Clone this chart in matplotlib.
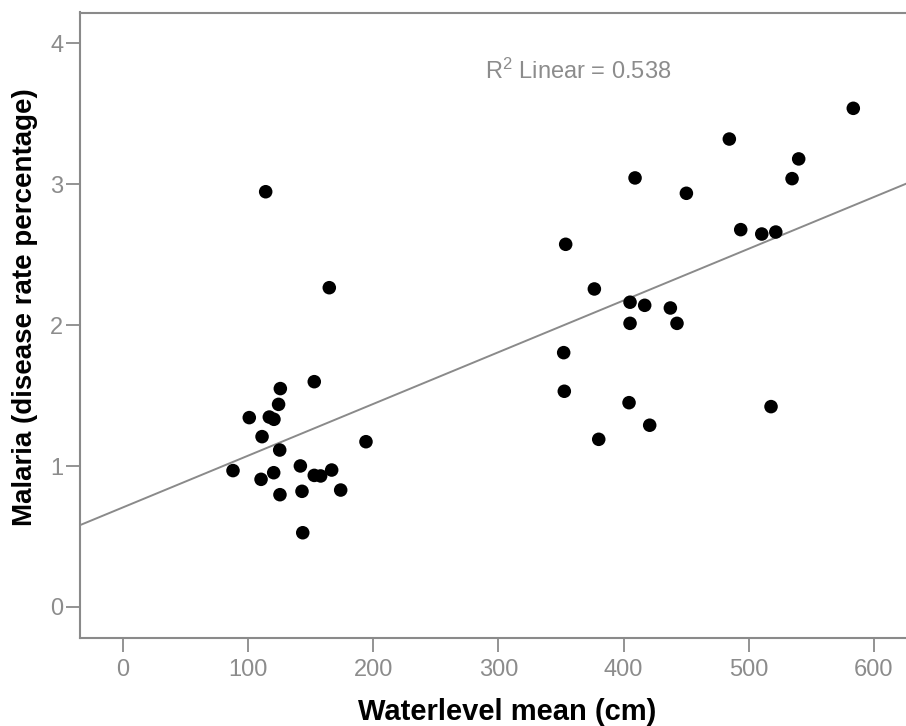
import matplotlib
matplotlib.use("Agg")
import matplotlib.pyplot as plt
import numpy as np

# ------------------------------------------------------------------
# Data (waterlevel in cm, malaria %)
# ------------------------------------------------------------------
waterlevel_low = [114.2, 165.0, 153.0, 125.9, 124.5, 101.1, 117.1, 120.8,
                  111.3, 125.4, 194.3, 88.1, 110.5, 120.6, 141.9, 153.0,
                  158.1, 166.9, 125.6, 143.2, 174.1, 143.8]
malaria_low = [2.947, 2.266, 1.599, 1.550, 1.438, 1.344, 1.348, 1.332,
               1.209, 1.114, 1.173, 0.968, 0.906, 0.953, 1.001, 0.934,
               0.930, 0.972, 0.797, 0.821, 0.830, 0.527]

waterlevel_high = [583.5, 484.5, 539.9, 534.6, 409.2, 450.2, 353.8, 493.6,
                   510.4, 521.6, 376.7, 405.2, 416.9, 437.4, 405.2, 442.7,
                   352.2, 352.7, 404.4, 517.8, 420.9, 380.2]
malaria_high = [3.539, 3.321, 3.180, 3.040, 3.045, 2.936, 2.574, 2.678,
                2.647, 2.661, 2.257, 2.163, 2.141, 2.122, 2.013, 2.013,
                1.805, 1.531, 1.450, 1.422, 1.290, 1.190]

x_ticks = [0, 100, 200, 300, 400, 500, 600]
y_ticks = [0, 1, 2, 3, 4]
r2_label = r"R$^2$ Linear = 0.538"

x = np.array(waterlevel_low + waterlevel_high)
y = np.array(malaria_low + malaria_high)

plt.rcParams["font.family"] = ["Liberation Sans", "DejaVu Sans"]
plt.rcParams["mathtext.fontset"] = "custom"
plt.rcParams["mathtext.rm"] = "Liberation Sans"
plt.rcParams["mathtext.it"] = "Liberation Sans"

spine_gray = "#8a8a8a"
text_gray = "#8c8c8c"

fig = plt.figure(figsize=(9.06, 7.26), dpi=100)
ax = fig.add_axes([80 / 906, 88 / 726, 1 - 80 / 906, (638 - 12.5) / 726])

xlim = (-34.1, 625.6)
ax.set_xlim(*xlim)
ax.set_ylim(-0.22, 4.219)

# fit line across the full frame
slope, intercept = np.polyfit(x, y, 1)
xx = np.array(xlim)
ax.plot(xx, intercept + slope * xx, color="#8a8a8a", lw=1.4, zorder=2)

ax.scatter(x, y, s=95, color="black", edgecolors="none", zorder=3)

ax.text(364, 3.80, r2_label, ha="center", va="center",
        fontsize=17, color=text_gray)

for side in ["top", "left", "bottom"]:
    ax.spines[side].set_color(spine_gray)
    ax.spines[side].set_linewidth(1.5)
ax.spines["right"].set_visible(False)

ax.set_xticks(x_ticks)
ax.set_yticks(y_ticks)
ax.tick_params(axis="both", direction="out", length=10, width=1.3,
               color=spine_gray, labelcolor=text_gray, labelsize=17)
ax.tick_params(axis="x", pad=5)
ax.tick_params(axis="y", pad=2)

ax.set_xlabel("Waterlevel mean (cm)", fontsize=21, fontweight="bold",
              va="center")
ax.xaxis.set_label_coords(507 / 906, 1 - 712 / 726, transform=fig.transFigure)
ax.set_ylabel("Malaria (disease rate percentage)", fontsize=20,
              fontweight="bold", va="center")
ax.yaxis.set_label_coords(25 / 906, 1 - 307 / 726, transform=fig.transFigure)

fig.savefig("out.png", dpi=100)
